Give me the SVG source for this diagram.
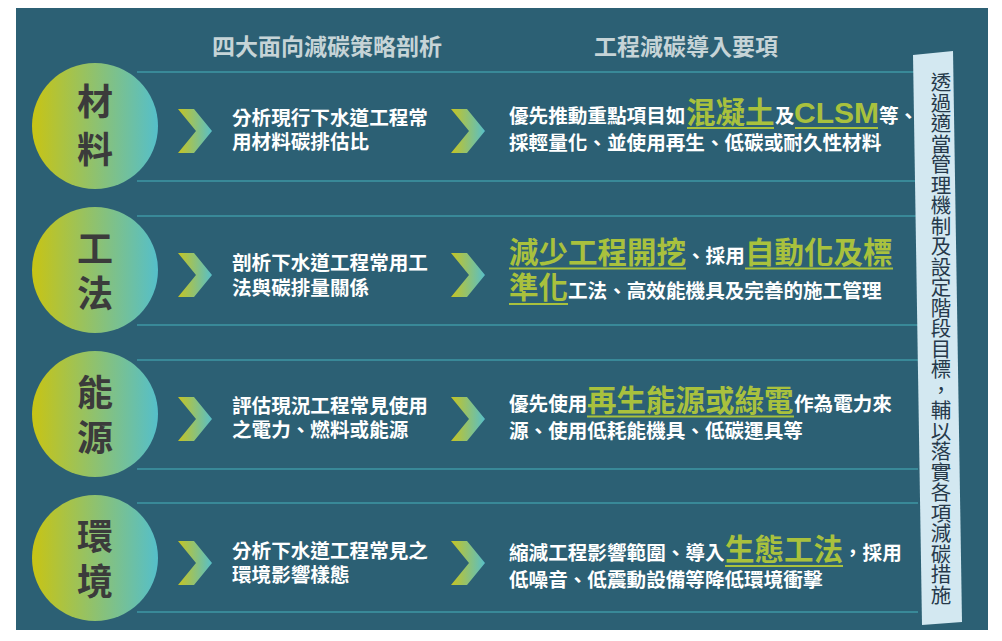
<svg xmlns="http://www.w3.org/2000/svg" width="1002" height="641" viewBox="0 0 1002 641">
<defs>
<linearGradient id="gc" x1="0" y1="0" x2="1" y2="0">
<stop offset="0" stop-color="#c8c414"/>
<stop offset="1" stop-color="#55bfca"/>
</linearGradient>
<linearGradient id="gv" x1="0" y1="0" x2="1" y2="0">
<stop offset="0" stop-color="#c6c422"/>
<stop offset="1" stop-color="#58bfc8"/>
</linearGradient>
<path id="chev" d="M0,-22 L16,-22 L34,0 L16,22 L0,22 L18,0 Z"/>
</defs>
<style>
text{font-family:"Noto Sans CJK TC","Noto Sans CJK SC",sans-serif;}
.hdr{font-size:23px;font-weight:bold;fill:#c6d4d7;text-anchor:middle}
.cat{font-size:36px;font-weight:bold;fill:#3b3b3b;text-anchor:middle}
.t{font-size:19.6px;font-weight:bold;fill:#ffffff}
.g{font-size:29.5px;font-weight:bold;fill:#a9c13d}
.lat{font-family:"Liberation Sans",Arial,sans-serif;font-size:30px;font-weight:bold;fill:#a9c13d}
.ul{stroke:#a9c13d;stroke-width:2}
.band{stroke:#3e97a4;stroke-width:1.6;fill:none}
.ch{fill:url(#gv)}
.vt{font-size:20.5px;fill:#26394a;writing-mode:vertical-rl}
</style>
<rect x="16" y="8" width="972" height="622" fill="#2c6074"/>

<g id="headers">
<text class="hdr" x="327" y="55">四大面向減碳策略剖析</text>
<text class="hdr" x="686" y="55">工程減碳導入要項</text>
</g>

<g id="bands">
<path class="band" d="M137,72 H918 M137,181 H918"/>
<path class="band" d="M137,216 H918 M137,325 H918"/>
<path class="band" d="M137,360 H918 M137,469 H918"/>
<path class="band" d="M137,503 H918 M137,612 H918"/>
</g>

<g id="connectors">
<use href="#chev" class="ch" x="178" y="131"/>
<use href="#chev" class="ch" x="451" y="131"/>
<use href="#chev" class="ch" x="178" y="275"/>
<use href="#chev" class="ch" x="451" y="275"/>
<use href="#chev" class="ch" x="178" y="419"/>
<use href="#chev" class="ch" x="451" y="419"/>
<use href="#chev" class="ch" x="178" y="563"/>
<use href="#chev" class="ch" x="451" y="563"/>
</g>

<g id="cat-material">
<circle cx="95" cy="126" r="63" fill="url(#gc)"/>
<text class="cat" x="95" y="115">材</text>
<text class="cat" x="95" y="163">料</text>
</g>
<g id="cat-method">
<circle cx="95" cy="270" r="63" fill="url(#gc)"/>
<text class="cat" x="95" y="262">工</text>
<text class="cat" x="95" y="307">法</text>
</g>
<g id="cat-energy">
<circle cx="95" cy="414" r="63" fill="url(#gc)"/>
<text class="cat" x="95" y="406">能</text>
<text class="cat" x="95" y="451">源</text>
</g>
<g id="cat-env">
<circle cx="95" cy="558" r="63" fill="url(#gc)"/>
<text class="cat" x="95" y="550">環</text>
<text class="cat" x="95" y="595">境</text>
</g>

<g id="analysis-material">
<text class="t" x="232" y="125">分析現行下水道工程常</text>
<text class="t" x="232" y="149">用材料碳排估比</text>
</g>
<g id="analysis-method">
<text class="t" x="232" y="270">剖析下水道工程常用工</text>
<text class="t" x="232" y="295">法與碳排量關係</text>
</g>
<g id="analysis-energy">
<text class="t" x="232" y="413">評估現況工程常見使用</text>
<text class="t" x="232" y="437">之電力、燃料或能源</text>
</g>
<g id="analysis-env">
<text class="t" x="232" y="558">分析下水道工程常見之</text>
<text class="t" x="232" y="582">環境影響樣態</text>
</g>

<g id="action-material">
<text class="t" y="122.5"><tspan x="509">優先推動重點項目如</tspan><tspan class="g" x="686">混凝土</tspan><tspan x="775">及</tspan><tspan class="lat" x="794">CLSM</tspan><tspan x="879">等、</tspan></text>
<text class="t" x="509" y="150">採輕量化、並使用再生、低碳或耐久性材料</text>
<path class="ul" d="M687,128 H774 M795,128 H878"/>
</g>
<g id="action-method">
<text class="t" y="263"><tspan class="g" x="509">減少工程開挖</tspan><tspan x="686">、採用</tspan><tspan class="g" x="745">自動化及標</tspan></text>
<text class="t" y="298"><tspan class="g" x="509">準化</tspan><tspan x="568">工法、高效能機具及完善的施工管理</tspan></text>
<path class="ul" d="M509,268.5 H686 M745,268.5 H893 M509,304 H568"/>
</g>
<g id="action-energy">
<text class="t" y="411"><tspan x="509">優先使用</tspan><tspan class="g" x="587">再生能源或綠電</tspan><tspan x="794">作為電力來</tspan></text>
<text class="t" x="509" y="438">源、使用低耗能機具、低碳運具等</text>
<path class="ul" d="M587,416.5 H794"/>
</g>
<g id="action-env">
<text class="t" y="560"><tspan x="509">縮減工程影響範圍、導入</tspan><tspan class="g" x="725">生態工法</tspan><tspan x="843">，採用</tspan></text>
<text class="t" x="509" y="587">低噪音、低震動設備等降低環境衝擊</text>
<path class="ul" d="M725,566 H843"/>
</g>

<g id="summary">
<polygon points="913,55 953,51 962,622 922,625" fill="#d3e8f1"/>
<text class="vt" x="941" y="72">透過適當管理機制及設定階段目標，輔以落實各項減碳措施</text>
</g>
</svg>
